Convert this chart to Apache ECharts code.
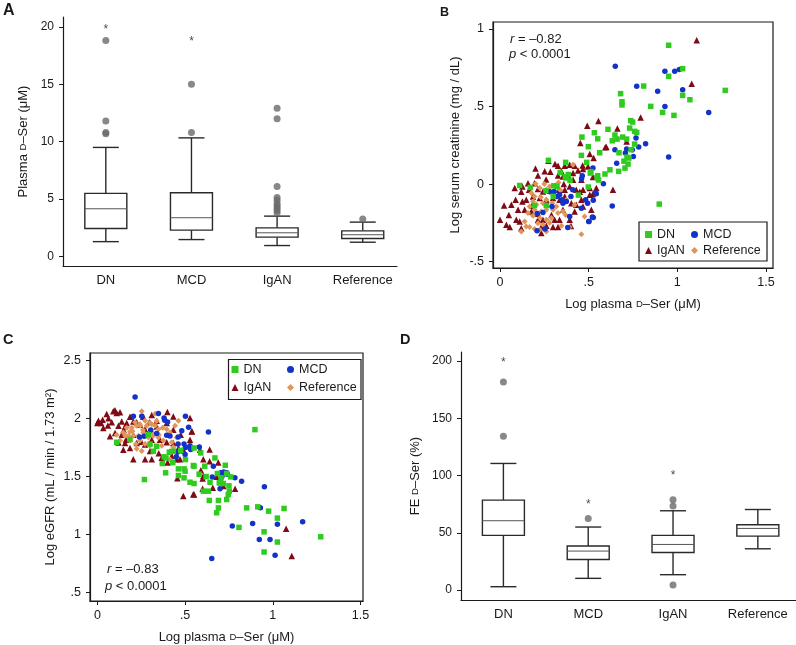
<!DOCTYPE html>
<html><head><meta charset="utf-8">
<script src="https://cdn.jsdelivr.net/npm/echarts@6/dist/echarts.min.js"></script>
<style>html,body{margin:0;padding:0;background:#fff}#c{width:796px;height:645px}</style>
</head><body><div id="c"></div>
<script>
const FONT = '"Liberation Sans", Arial, Helvetica, sans-serif';
const categories = ['DN', 'MCD', 'IgAN', 'Reference'];

// Panel A: plasma D-Ser boxes [min, Q1, median, Q3, max]
const boxA = [[1.3, 2.45, 4.16, 5.5, 9.5], [1.48, 2.3, 3.38, 5.56, 10.33], [0.96, 1.69, 2.07, 2.5, 3.52], [1.25, 1.57, 1.9, 2.24, 3.0]];
const outliersA = [['DN', 18.8], ['DN', 11.8], ['DN', 10.8], ['DN', 10.7], ['MCD', 15.0], ['MCD', 10.8],
  ['IgAN', 12.9], ['IgAN', 12.0], ['IgAN', 6.1], ['IgAN', 5.15], ['IgAN', 4.9], ['IgAN', 4.6], ['IgAN', 4.4], ['IgAN', 4.2], ['IgAN', 4.0], ['IgAN', 3.8], ['Reference', 3.27]];
const starsA = [['DN', 20.0], ['MCD', 19.0]];

// Panel D: FE D-Ser boxes
const boxD = [[2.9, 47.7, 60.5, 78.5, 110.5], [10.2, 26.7, 34.0, 38.4, 55.0], [13.4, 32.8, 39.8, 47.7, 69.2], [36.0, 47.1, 53.8, 57.0, 70.3]];
const outliersD = [['DN', 181.7], ['DN', 134.3], ['MCD', 62.5], ['IgAN', 78.8], ['IgAN', 73.3], ['IgAN', 4.4]];
const starsD = [['DN', 201], ['MCD', 77], ['IgAN', 102.6]];

// Panel B: log plasma D-Ser vs log serum creatinine
const dnB = [[0.951,0.895],[0.951,0.695],[1.03,0.744],[1.27,0.604],[1.03,0.572],[1.071,0.544],[0.81,0.632],[0.68,0.583],[0.688,0.531],[0.688,0.51],[0.85,0.501],[0.917,0.462],[0.981,0.443],[0.898,-0.129],[0.737,0.409],[0.748,0.4],[0.759,0.34],[0.731,0.361],[0.771,0.333],[0.609,0.353],[0.532,0.331],[0.462,0.303],[0.551,0.292],[0.633,0.279],[0.648,0.316],[0.66,0.29],[0.692,0.303],[0.714,0.29],[0.498,0.241],[0.562,0.202],[0.459,0.185],[0.671,0.202],[0.759,0.258],[0.739,0.222],[0.716,0.174],[0.722,0.129],[0.705,0.103],[0.669,0.082],[0.62,0.092],[0.592,0.065],[0.513,0.08],[0.547,0.041],[0.556,0.026],[0.498,-0.019],[0.489,0.14],[0.442,-0.071],[0.273,0.153],[0.37,0.14],[0.34,0.075],[0.368,0.047],[0.395,0.024],[0.385,0.062],[0.303,-0.011],[0.259,-0.043],[0.111,-0.009],[0.171,-0.022],[0.194,-0.138],[0.261,-0.138],[0.3,-0.08],[0.509,0.071],[0.551,0.054],[0.727,0.168],[0.699,0.148],[0.321,-0.015],[0.374,0.039]];
const mcdB = [[0.65,0.759],[0.93,0.727],[0.985,0.727],[1.011,0.738],[1.03,0.609],[0.889,0.598],[0.771,0.63],[0.93,0.501],[1.177,0.462],[0.951,0.174],[0.821,0.26],[0.782,0.239],[0.746,0.222],[0.714,0.226],[0.707,0.2],[0.648,0.222],[0.658,0.135],[0.752,0.178],[0.767,0.297],[0.583,0.002],[0.538,-0.058],[0.526,-0.105],[0.494,-0.123],[0.526,-0.215],[0.5,-0.241],[0.633,-0.142],[0.464,0.054],[0.46,0.035],[0.41,-0.037],[0.4,-0.08],[0.374,-0.112],[0.35,-0.101],[0.32,-0.08],[0.459,-0.155],[0.382,-0.28],[0.254,-0.29],[0.209,-0.301],[0.242,-0.183],[0.21,-0.19],[0.293,-0.144],[0.305,-0.047],[0.524,0.103],[0.393,-0.209],[0.483,-0.101],[0.502,-0.241],[0.521,-0.213],[0.543,-0.062],[0.336,-0.069],[0.355,-0.123],[0.28,-0.05]];
const igaB = [[0.453,0.265],[0.6,0.239],[0.506,0.194],[0.528,0.168],[0.327,0.118],[0.365,0.118],[0.393,0.125],[0.421,0.118],[0.346,0.082],[0.252,0.082],[0.284,0.08],[0.214,0.056],[0.327,0.056],[0.355,0.049],[0.383,0.054],[0.412,0.071],[0.44,0.088],[0.468,0.097],[0.496,0.114],[0.524,0.045],[0.459,0.028],[0.412,0.028],[0.158,0.006],[0.195,0.006],[0.083,-0.026],[0.126,-0.015],[0.164,-0.037],[0.214,-0.032],[0.242,-0.047],[0.28,-0.041],[0.333,-0.037],[0.365,-0.037],[0.393,-0.015],[0.43,-0.037],[0.468,-0.037],[0.506,-0.026],[0.543,-0.026],[0.637,-0.037],[0.088,-0.101],[0.126,-0.112],[0.148,-0.101],[0.186,-0.08],[0.224,-0.09],[0.261,-0.101],[0.299,-0.09],[0.336,-0.101],[0.365,-0.08],[0.402,-0.123],[0.43,-0.133],[0.468,-0.144],[0.064,-0.133],[0.023,-0.138],[0.102,-0.166],[0.139,-0.166],[0.177,-0.176],[0.214,-0.191],[0.355,-0.166],[0.421,-0.176],[0.459,-0.101],[0.506,-0.069],[0.515,-0.166],[0.092,-0.23],[0.111,-0.241],[0.036,-0.262],[0.055,-0.277],[0.0,-0.23],[0.12,-0.284],[0.233,-0.277],[0.261,-0.269],[0.299,-0.277],[0.327,-0.277],[0.308,-0.23],[0.336,-0.23],[0.393,-0.23],[0.214,-0.23],[0.242,-0.23],[0.233,-0.316],[1.109,0.927],[1.081,0.647],[0.793,0.43],[0.555,0.406],[0.492,0.376],[0.662,0.359],[0.594,0.237],[0.714,0.275],[0.466,0.12],[0.523,-0.065],[0.273,0.15],[0.2,0.1],[0.31,0.13],[0.26,0.03],[0.36,0.0],[0.18,-0.14],[0.29,-0.2],[0.4,-0.27],[0.45,-0.05],[0.12,-0.05],[0.05,-0.2]];
const refB = [[0.412,0.125],[0.201,0.002],[0.224,-0.026],[0.261,-0.037],[0.28,-0.015],[0.177,-0.058],[0.195,-0.08],[0.23,-0.085],[0.261,-0.101],[0.295,-0.123],[0.318,-0.144],[0.242,-0.123],[0.205,-0.133],[0.167,-0.144],[0.195,-0.166],[0.233,-0.176],[0.261,-0.166],[0.299,-0.166],[0.327,-0.187],[0.355,-0.176],[0.186,-0.204],[0.224,-0.219],[0.261,-0.23],[0.289,-0.219],[0.214,-0.252],[0.242,-0.262],[0.167,-0.277],[0.195,-0.29],[0.224,-0.295],[0.261,-0.305],[0.12,-0.305],[0.459,-0.323],[0.477,-0.209],[0.393,-0.277],[0.346,-0.269],[0.421,-0.133],[0.374,-0.101],[0.139,-0.241],[0.148,-0.273],[0.158,-0.187],[0.186,-0.112],[0.3,-0.06],[0.34,-0.04],[0.28,-0.25],[0.37,-0.2],[0.33,0.01],[0.25,0.0]];

// Panel C: log plasma D-Ser vs log eGFR
const dnC = [[0.898,1.904],[0.11,1.795],[0.268,1.474],[1.273,0.981],[0.95,0.85],[0.95,1.024],[1.026,0.936],[1.026,1.142],[1.064,1.225],[0.976,1.202],[0.914,1.239],[0.851,1.23],[0.807,1.062],[0.68,1.188],[0.69,1.23],[0.69,1.294],[0.737,1.302],[0.746,1.345],[0.752,1.374],[0.75,1.42],[0.729,1.597],[0.67,1.66],[0.612,1.589],[0.589,1.703],[0.551,1.746],[0.551,1.589],[0.5,1.546],[0.462,1.566],[0.462,1.509],[0.494,1.489],[0.528,1.451],[0.551,1.44],[0.604,1.374],[0.633,1.374],[0.638,1.294],[0.699,1.446],[0.705,1.489],[0.684,1.526],[0.737,1.526],[0.76,1.497],[0.642,1.451],[0.391,1.66],[0.389,1.532],[0.37,1.612],[0.433,1.718],[0.475,1.726],[0.502,1.646],[0.338,1.761],[0.186,1.818],[0.319,1.718],[0.29,1.861],[0.547,1.595],[0.494,1.566],[0.695,1.445],[0.718,1.44],[0.38,1.67],[0.41,1.71],[0.3,1.78],[0.43,1.62],[0.62,1.5],[0.58,1.52]];
const mcdC = [[0.215,2.185],[0.348,2.042],[0.502,2.019],[0.38,2.004],[0.633,1.884],[0.581,1.755],[0.528,1.766],[0.532,1.732],[0.481,1.895],[0.52,1.924],[0.661,1.589],[0.655,1.497],[0.699,1.394],[0.703,1.532],[0.72,1.54],[0.737,1.532],[0.784,1.489],[0.822,1.46],[0.952,1.411],[0.929,1.231],[0.885,1.096],[0.769,1.073],[0.923,0.958],[0.984,0.958],[1.026,1.09],[1.17,1.11],[1.013,0.821],[0.652,0.795],[0.205,2.019],[0.253,2.02],[0.384,1.985],[0.4,1.97],[0.414,1.85],[0.24,1.84],[0.266,1.846],[0.304,1.9],[0.338,1.87],[0.395,1.855],[0.461,1.84],[0.494,1.78],[0.503,1.75],[0.48,1.72],[0.46,1.78],[0.5,1.69],[0.455,1.71],[0.45,1.67],[0.71,1.5],[0.74,1.52]];
const igaC = [[0.0,1.961],[0.021,1.961],[0.03,1.99],[0.053,2.039],[0.091,2.062],[0.11,2.047],[0.129,2.053],[0.1,2.07],[0.006,1.981],[0.082,1.967],[0.12,1.937],[0.158,1.931],[0.205,1.975],[0.243,1.947],[0.272,1.908],[0.101,1.875],[0.139,1.86],[0.163,1.817],[0.205,1.86],[0.224,1.788],[0.272,1.775],[0.31,1.817],[0.357,1.817],[0.395,1.795],[0.433,1.788],[0.462,1.745],[0.49,1.731],[0.414,1.716],[0.186,1.745],[0.148,1.731],[0.205,1.648],[0.272,1.648],[0.31,1.648],[0.367,1.662],[0.424,1.676],[0.452,1.648],[0.471,1.648],[0.399,2.056],[0.224,1.967],[0.338,1.981],[0.433,2.018],[0.528,2.004],[0.538,1.89],[0.475,1.86],[0.433,1.903],[0.395,1.961],[0.296,1.967],[0.338,1.931],[0.31,2.03],[0.262,2.016],[0.186,2.016],[0.167,1.961],[0.139,1.975],[0.063,2.003],[0.034,1.918],[0.072,1.846],[0.12,1.794],[0.158,1.788],[0.528,1.817],[0.585,1.731],[0.604,1.648],[0.604,1.505],[0.68,1.499],[0.718,1.419],[0.49,1.332],[0.547,1.347],[0.456,1.485],[0.689,1.62],[0.539,1.888],[0.64,1.732],[0.64,1.632],[0.59,1.554],[0.6,1.483],[0.658,1.403],[0.551,1.345],[0.6,1.395],[0.785,1.395],[1.076,1.05],[1.108,0.815],[0.708,1.457],[0.06,1.94],[0.15,1.9],[0.25,1.8],[0.35,1.7],[0.4,1.62],[0.3,1.72]];
const refC = [[0.167,1.921],[0.196,1.921],[0.224,1.937],[0.243,1.95],[0.272,1.98],[0.3,1.964],[0.329,1.937],[0.348,1.908],[0.372,1.921],[0.395,1.908],[0.414,1.88],[0.148,1.88],[0.177,1.852],[0.205,1.852],[0.234,1.852],[0.262,1.88],[0.291,1.837],[0.319,1.852],[0.348,1.837],[0.376,1.81],[0.186,1.81],[0.243,1.81],[0.272,1.78],[0.3,1.766],[0.224,1.74],[0.253,1.72],[0.443,1.937],[0.462,1.98],[0.424,1.795],[0.433,1.752],[0.452,1.837],[0.414,1.648],[0.367,1.766],[0.215,1.967],[0.243,1.937],[0.281,1.937],[0.31,1.95],[0.338,1.978],[0.186,1.885],[0.158,1.852],[0.129,1.81],[0.253,2.062],[0.11,1.86],[0.329,2.04],[0.2,1.89],[0.26,1.9],[0.31,1.88],[0.35,1.86],[0.28,1.86],[0.22,1.78]];

const ticksA = [0, 5, 10, 15, 20];
const ticksD = [0, 50, 100, 150, 200];
const ticksXBC = [0, 0.5, 1, 1.5];
const ticksYB = [-0.5, 0, 0.5, 1];
const ticksYC = [0.5, 1, 1.5, 2, 2.5];

const COL = { DN: '#2fcc1f', MCD: '#1232c8', IgAN: '#7e0a16', Reference: '#e0955a' };
const SYM = { DN: ['rect', 5.5], MCD: ['circle', 5.5], IgAN: ['triangle', 6.5], Reference: ['diamond', 6] };
const INK = '#1a1a1a';

function fmtDec(v) { if (v === 0) return '0'; return String(v).replace(/^(-?)0\./, '$1.'); }
const scRich = { sc: { fontSize: 9.5, fontFamily: FONT, color: INK } };

function boxRender(params, api) {
  const x = api.value(0);
  const y = [1, 2, 3, 4, 5].map(i => api.coord([x, api.value(i)])[1]);
  const cx = api.coord([x, api.value(1)])[0];
  const bw = 21, cw = 13;
  const ls = { stroke: '#2a2a2a', lineWidth: 1.4 };
  return { type: 'group', children: [
    { type: 'line', shape: { x1: cx, y1: y[0], x2: cx, y2: y[1] }, style: ls },
    { type: 'line', shape: { x1: cx, y1: y[3], x2: cx, y2: y[4] }, style: ls },
    { type: 'line', shape: { x1: cx - cw, y1: y[0], x2: cx + cw, y2: y[0] }, style: ls },
    { type: 'line', shape: { x1: cx - cw, y1: y[4], x2: cx + cw, y2: y[4] }, style: ls },
    { type: 'rect', shape: { x: cx - bw, y: y[3], width: 2 * bw, height: y[1] - y[3] }, style: { fill: '#fff', stroke: '#2a2a2a', lineWidth: 1.4 } },
    { type: 'line', shape: { x1: cx - bw, y1: y[2], x2: cx + bw, y2: y[2] }, style: { stroke: '#555', lineWidth: 1 } }
  ] };
}

function catIdx(name) { return categories.indexOf(name) + 1; }

function boxSeries(box, gi) {
  return { type: 'custom', xAxisIndex: gi, yAxisIndex: gi, renderItem: boxRender,
    encode: { x: 0, y: [1, 2, 3, 4, 5] }, data: box.map((b, i) => [i + 1].concat(b)), z: 2 };
}
function outlierSeries(arr, gi) {
  return { type: 'scatter', xAxisIndex: gi, yAxisIndex: gi, symbol: 'circle', symbolSize: 7,
    itemStyle: { color: '#6a6a6a' }, data: arr.map(d => [catIdx(d[0]), d[1]]), z: 3 };
}
function starSeries(arr, gi) {
  return { type: 'scatter', xAxisIndex: gi, yAxisIndex: gi, symbol: 'circle', symbolSize: 1, itemStyle: { color: 'rgba(0,0,0,0)' },
    label: { show: true, formatter: '*', position: 'inside', offset: [0, 3], fontSize: 12, fontFamily: FONT, color: INK },
    data: arr.map(d => [catIdx(d[0]), d[1]]), z: 4 };
}
function scatterSeries(name, data, gi) {
  return { name: name, type: 'scatter', xAxisIndex: gi, yAxisIndex: gi, symbol: SYM[name][0], symbolSize: SYM[name][1],
    itemStyle: { color: COL[name], opacity: 1 }, data: data, z: 3 };
}

const axLine = { show: true, onZero: false, lineStyle: { color: INK, width: 1.2 } };
const tickStyle = { show: true, length: 4, inside: false, lineStyle: { color: INK, width: 1 } };

function catXAxis(gi, min, max) {
  return { type: 'value', gridIndex: gi, min: min, max: max, axisLine: axLine, axisTick: { show: false }, splitLine: { show: false },
    axisLabel: { customValues: [1, 2, 3, 4], formatter: v => categories[Math.round(v) - 1], fontSize: 13, fontFamily: FONT, color: INK, margin: 8 } };
}
function valYAxis(gi, min, max, ticks, name, gap, fmt, fs) {
  return { type: 'value', gridIndex: gi, min: min, max: max, axisLine: axLine, splitLine: { show: false },
    axisTick: Object.assign({ customValues: ticks }, tickStyle),
    axisLabel: { customValues: ticks, formatter: fmt || (v => String(v)), fontSize: fs || 12, fontFamily: FONT, color: INK, margin: 9 },
    name: name, nameLocation: 'middle', nameGap: gap, nameTextStyle: { fontSize: 13, fontFamily: FONT, color: INK, rich: scRich } };
}
function valXAxis(gi, min, max, ticks, name) {
  return { type: 'value', gridIndex: gi, min: min, max: max, axisLine: axLine, splitLine: { show: false },
    axisTick: Object.assign({ customValues: ticks }, tickStyle),
    axisLabel: { customValues: ticks, formatter: fmtDec, fontSize: 12.5, fontFamily: FONT, color: INK, margin: 8 },
    name: name, nameLocation: 'middle', nameGap: 30, nameTextStyle: { fontSize: 13, fontFamily: FONT, color: INK, rich: scRich } };
}

const dSerName = 'Log plasma {sc|D}–Ser (μM)';

function legendItem(name, left, top) {
  return { data: [name], left: left, top: top, orient: 'horizontal', padding: 0, itemGap: 0, itemWidth: 7, itemHeight: 7,
    selectedMode: false, textStyle: { fontSize: 12.5, fontFamily: FONT, color: INK, padding: [0, 0, 0, 0] } };
}

function txt(text, left, top, size, bold) {
  return { type: 'text', left: left, top: top, style: { text: text, fontSize: size, fontWeight: bold ? 'bold' : 'normal', fontFamily: FONT, fill: INK,
    rich: { i: { fontStyle: 'italic', fontSize: size, fontFamily: FONT, fill: INK } } } };
}

const option = {
  backgroundColor: '#fff',
  animation: false,
  grid: [
    { left: 63, top: 17, width: 334, height: 249 },
    { left: 493, top: 22, width: 280, height: 246, show: true, borderColor: INK, borderWidth: 1.2, backgroundColor: 'transparent' },
    { left: 90, top: 353, width: 273, height: 249, show: true, borderColor: INK, borderWidth: 1.2, backgroundColor: 'transparent' },
    { left: 461, top: 352, width: 335, height: 248 }
  ],
  xAxis: [
    catXAxis(0, 0.5, 4.4),
    valXAxis(1, -0.0395, 1.5395, ticksXBC, dSerName),
    valXAxis(2, -0.042, 1.514, ticksXBC, dSerName),
    catXAxis(3, 0.5, 4.45)
  ],
  yAxis: [
    valYAxis(0, -0.82, 20.85, ticksA, 'Plasma {sc|D}–Ser (μM)', 33),
    valYAxis(1, -0.541, 1.045, ticksYB, 'Log serum creatinine (mg / dL)', 31, fmtDec, 12.5),
    valYAxis(2, 0.428, 2.564, ticksYC, 'Log eGFR (mL / min / 1.73 m²)', 33, fmtDec, 12.5),
    valYAxis(3, -8.7, 207.8, ticksD, 'FE {sc|D}–Ser (%)', 39)
  ],
  legend: [
    legendItem('DN', 645, 228), legendItem('MCD', 691, 228), legendItem('IgAN', 645, 244), legendItem('Reference', 691, 244),
    legendItem('DN', 231.5, 363), legendItem('MCD', 287, 363), legendItem('IgAN', 231.5, 381), legendItem('Reference', 287, 381)
  ],
  graphic: [
    txt('A', 3, 3, 16, true),
    txt('B', 440, 6, 12.5, true),
    txt('C', 3, 332, 14.5, true),
    txt('D', 400, 332, 14.5, true),
    txt('{i|r} = –0.82', 510, 33, 13),
    txt('{i|p} < 0.0001', 509, 48, 13),
    txt('{i|r} = –0.83', 107, 563, 13),
    txt('{i|p} < 0.0001', 105, 580, 13),
    { type: 'rect', shape: { x: 639, y: 222, width: 128, height: 39 }, style: { fill: 'transparent', stroke: INK, lineWidth: 1.2 }, z: 10 },
    { type: 'rect', shape: { x: 228.5, y: 359.5, width: 132.5, height: 40 }, style: { fill: 'transparent', stroke: INK, lineWidth: 1.2 }, z: 10 }
  ],
  series: [
    boxSeries(boxA, 0), outlierSeries(outliersA, 0), starSeries(starsA, 0),
    boxSeries(boxD, 3), outlierSeries(outliersD, 3), starSeries(starsD, 3),
    scatterSeries('IgAN', igaB, 1), scatterSeries('Reference', refB, 1), scatterSeries('MCD', mcdB, 1), scatterSeries('DN', dnB, 1),
    scatterSeries('IgAN', igaC, 2), scatterSeries('Reference', refC, 2), scatterSeries('MCD', mcdC, 2), scatterSeries('DN', dnC, 2)
  ]
};

const chart = echarts.init(document.getElementById('c'), null, { renderer: 'canvas' });
chart.setOption(option);
</script>
</body></html>
